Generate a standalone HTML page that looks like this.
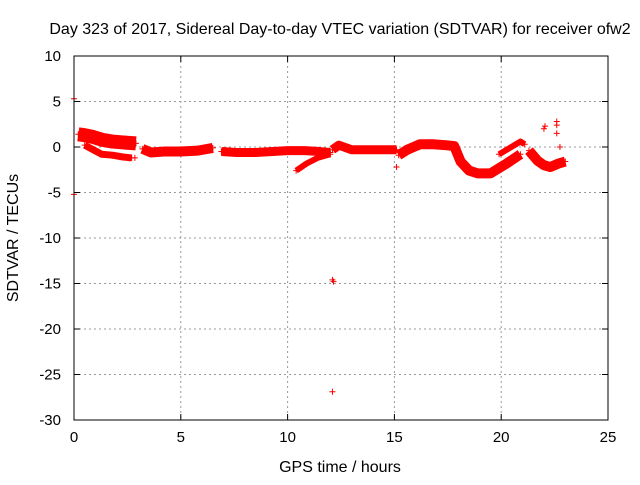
<!DOCTYPE html>
<html><head><meta charset="utf-8"><style>
body{margin:0;background:#fff}
svg text{font-family:"Liberation Sans",sans-serif;font-size:15px;fill:#000}
svg text.big{font-size:16px}
</style></head><body>
<svg id="c" width="640" height="480" xmlns="http://www.w3.org/2000/svg">
<text class="big" x="340" y="34" text-anchor="middle">Day 323 of 2017, Sidereal Day-to-day VTEC variation (SDTVAR) for receiver ofw2</text>
<text class="big" x="340" y="472" text-anchor="middle">GPS time / hours</text>
<text class="big" transform="translate(18,238) rotate(-90)" text-anchor="middle">SDTVAR / TECUs</text>
<g id="grid"></g><g id="ticks"></g><g id="data"></g>
<rect x="74" y="56" width="534" height="364" fill="none" stroke="#000"/>
</svg>
<script>
const xTicks=[0,5,10,15,20,25];
const yTicks=[10,5,0,-5,-10,-15,-20,-25,-30];
const tA=[0.2,0.5,0.9,1.3,1.8,2.3,2.9];
const vA=[1.4,1.3,1.1,0.8,0.6,0.5,0.4];
const tA2=[0.5,0.9,1.3,1.8,2.3,2.7];
const vA2=[0.2,-0.3,-0.8,-0.9,-1.1,-1.2];
const tB=[3.2,3.6,4.2,5.0,5.8,6.5];
const vB=[-0.2,-0.6,-0.5,-0.5,-0.4,-0.1];
const tC=[6.9,7.6,8.5,9.3,10.0,10.8,11.5,12.0];
const vC=[-0.5,-0.6,-0.6,-0.5,-0.4,-0.4,-0.5,-0.6];
const tC2=[10.4,10.9,11.4,12.0];
const vC2=[-2.6,-1.8,-1.2,-0.8];
const tD=[12.1,12.4,13.0,13.8,14.5,15.1];
const vD=[-0.3,0.2,-0.3,-0.3,-0.3,-0.3];
const tE=[15.2,15.6,16.2,16.8,17.4,17.8,18.1,18.5,18.9,19.5,20.2,20.9];
const vE=[-0.9,-0.3,0.3,0.3,0.2,0.1,-1.6,-2.6,-2.9,-2.9,-1.9,-0.8];
const tE2=[19.9,20.4,20.9,21.1];
const vE2=[-0.8,-0.1,0.6,0.3];
const tF=[21.3,21.7,22.0,22.3,22.7,23.0];
const vF=[-0.4,-1.5,-2.0,-2.2,-1.8,-1.6];
const tO=[0,0,2.85,15.1,12.1,12.15,12.1,22.0,22.05,22.6,22.6,22.6,22.75];
const vO=[5.3,-5.2,-1.2,-2.2,-14.6,-14.8,-26.9,2.0,2.3,2.8,2.4,1.5,0.0];
const X=t=>74+t*534/25, Y=v=>147-v*9.1;
const NS="http://www.w3.org/2000/svg";
const G=id=>document.getElementById(id);
function mk(tag,attrs,parent){const e=document.createElementNS(NS,tag);for(const k in attrs)e.setAttribute(k,attrs[k]);parent.appendChild(e);return e;}
xTicks.forEach(t=>{
 const l=mk('line',{x1:X(t),x2:X(t),y1:56,y2:420,stroke:'#999','stroke-dasharray':'2,3'},G('grid'));
 
 
 mk('line',{x1:X(t),x2:X(t),y1:420,y2:414,stroke:'#000'},G('ticks'));
 mk('line',{x1:X(t),x2:X(t),y1:56,y2:62,stroke:'#000'},G('ticks'));
 const tx=mk('text',{x:X(t),y:442,'text-anchor':'middle'},G('ticks'));tx.textContent=t;
 
 
});
yTicks.forEach(v=>{
 const l=mk('line',{x1:74,x2:608,y1:Y(v),y2:Y(v),stroke:'#999','stroke-dasharray':'2,3'},G('grid'));
 
 
 mk('line',{x1:74,x2:80,y1:Y(v),y2:Y(v),stroke:'#000'},G('ticks'));
 mk('line',{x1:608,x2:602,y1:Y(v),y2:Y(v),stroke:'#000'},G('ticks'));
 const tx=mk('text',{x:61,y:Y(v)+5,'text-anchor':'end'},G('ticks'));tx.textContent=v;
 
 
});
function plus(t,v){
 const p=mk('path',{d:`M${X(t)-3},${Y(v)}h6M${X(t)},${Y(v)-3}v6`,stroke:'#f00','stroke-width':1},G('data'));
 
 
}
function track(ts,vs,w){
 const pl=mk('polyline',{points:ts.map((t,i)=>X(t)+','+Y(vs[i])).join(' '),fill:'none',stroke:'#f00','stroke-width':w,'stroke-linejoin':'round','stroke-linecap':'butt'},G('data'));
 
 
 ts.forEach((t,i)=>plus(t,vs[i]));
}
track(tA,vA,14);track(tA2,vA2,7);track(tB,vB,10);track(tC,vC,9);track(tC2,vC2,6);
track(tD,vD,9);track(tE,vE,10);track(tE2,vE2,6);track(tF,vF,10);
tO.forEach((t,i)=>plus(t,vO[i]));
</script>
</body></html>
